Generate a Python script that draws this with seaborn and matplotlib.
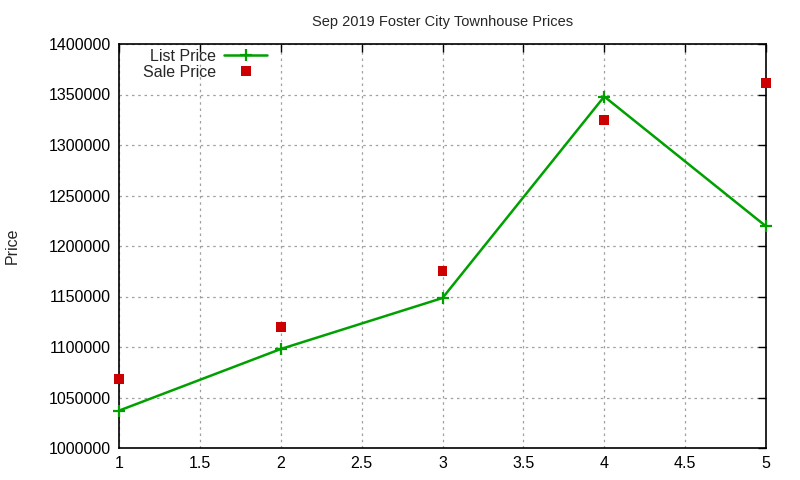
import numpy as np
import pandas as pd
import matplotlib
matplotlib.use("Agg")
import matplotlib.pyplot as plt
from matplotlib.lines import Line2D
import seaborn as sns

# data
x_vals = [1, 2, 3, 4, 5]
list_price = [1037000, 1098000, 1148500, 1348000, 1219500]
sale_price = [1068000, 1119500, 1175000, 1325000, 1361000]

df = pd.DataFrame({"x": x_vals, "List Price": list_price, "Sale Price": sale_price})

green = "#00a000"
red = "#cc0000"

sns.set_style("white")
plt.rcParams["font.family"] = ["Liberation Sans", "DejaVu Sans"]

fig = plt.figure(figsize=(8, 4.8), dpi=100)
ax = fig.add_axes([119 / 800, 1 - 448 / 480, (766 - 119) / 800, (448 - 44) / 480])

sns.lineplot(data=df, x="x", y="List Price", ax=ax, color=green, lw=1.8,
             marker="+", markersize=8, markeredgewidth=1.6, markeredgecolor=green,
             legend=False, clip_on=False, zorder=4)
sns.scatterplot(data=df, x="x", y="Sale Price", ax=ax, color=red, marker="s",
                s=50, edgecolor="none", legend=False, zorder=5, clip_on=False)

ax.set_xlim(1, 5)
ax.set_ylim(1000000, 1400000)
ax.set_xticks(np.arange(1, 5.01, 0.5))
ax.set_xticklabels(["1", "1.5", "2", "2.5", "3", "3.5", "4", "4.5", "5"])
ax.set_yticks(np.arange(1000000, 1400001, 50000))
ax.yaxis.set_major_formatter(matplotlib.ticker.FuncFormatter(lambda v, p: f"{int(v)}"))
ax.grid(True, color="#a0a0a0", linestyle=(0, (2, 3)), lw=0.9)
ax.tick_params(direction="in", length=6, width=1, labelsize=11.5, top=True, right=True,
               colors="black", pad=6)
for s in ax.spines.values():
    s.set_color("black")
    s.set_linewidth(1.2)

ax.set_xlabel("")
ax.set_ylabel("Price", fontsize=11.5, labelpad=21)
ax.set_title("Sep 2019 Foster City Townhouse Prices", fontsize=10.5, pad=13)

handles = [
    Line2D([], [], color=green, lw=1.8, marker="+", markersize=8, markeredgewidth=1.6),
    Line2D([], [], color=red, lw=0, marker="s", markersize=7, markeredgewidth=0),
]
leg = ax.legend(handles, ["List Price", "Sale Price"], loc="upper left",
                bbox_to_anchor=(0.035, 0.992), frameon=False, fontsize=11.5,
                markerfirst=False, handlelength=2.7, borderaxespad=0.0, borderpad=0.1,
                labelspacing=0.05, handletextpad=0.5)
for t in leg.get_texts():
    t.set_ha("right")
leg._legend_box.align = "right"

fig.savefig("out.png", dpi=100)
